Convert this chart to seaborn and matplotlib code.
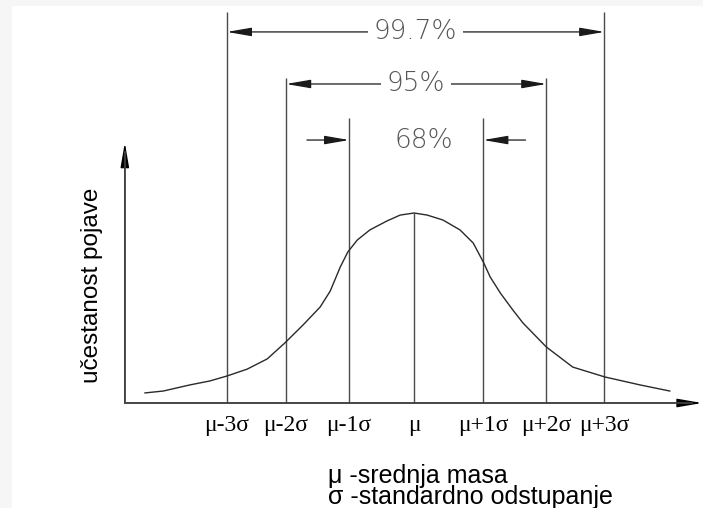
import matplotlib
matplotlib.use("Agg")
import matplotlib.pyplot as plt
from matplotlib.patches import Rectangle
import seaborn as sns
import pandas as pd

# ---- data ----
# bell curve (x in sigma units, y relative frequency, peak = 1)
curve_x = [-4.27, -3.98, -3.56, -3.24, -2.97, -2.65, -2.33, -2.05, -1.76, -1.49,
           -1.33, -1.17, -1.05, -0.90, -0.70, -0.43, -0.22, 0.0, 0.21, 0.46,
           0.73, 0.94, 1.10, 1.21, 1.37, 1.57, 1.73, 2.10, 2.52, 3.03,
           3.59, 4.06]
curve_y = [0.053, 0.063, 0.095, 0.116, 0.142, 0.178, 0.232, 0.316, 0.411, 0.505,
           0.589, 0.716, 0.795, 0.858, 0.911, 0.958, 0.989, 1.0, 0.989, 0.963,
           0.911, 0.842, 0.742, 0.663, 0.579, 0.489, 0.421, 0.295, 0.189, 0.137,
           0.095, 0.063]

sigma_labels = ["μ-3σ", "μ-2σ", "μ-1σ", "μ", "μ+1σ", "μ+2σ", "μ+3σ"]
sigma_pos = [-2.97, -2.03, -1.03, 0.0, 1.10, 2.10, 3.02]
line_tops = [2.058, 1.711, 1.50, 1.0, 1.50, 1.711, 2.058]

pct_labels = ["99.7%", "95%", "68%"]
pct_levels = [1.953, 1.679, 1.384]

y_label = "učestanost pojave"
legend_lines = ["μ -srednja masa", "σ -standardno odstupanje"]

# ---- figure ----
W, H = 703, 508
fig = plt.figure(figsize=(W / 100, H / 100), dpi=100)
fig.patch.set_facecolor("#f6f6f6")
fig.add_artist(Rectangle((12 / W, 0), 1 - 12 / W, 1 - 6 / H, transform=fig.transFigure,
                         facecolor="white", edgecolor="none", zorder=0))
ax = fig.add_axes([0, 0, 1, 1])
ax.patch.set_alpha(0)
ax.set_xlim(-414 / 63, (W - 414) / 63)
ax.set_ylim((403 - H) / 190, 403 / 190)

LINE = "#4a4a4a"
x_axis_left, x_axis_right = -4.59, 4.57
y_axis_top = 1.37
head = "-|>,head_length=1.5,head_width=0.26"

# axes with arrows
ax.annotate("", xy=(x_axis_right, 0), xytext=(x_axis_left, 0),
            arrowprops=dict(arrowstyle=head, mutation_scale=10,
                            color="black", lw=1.0, shrinkA=0, shrinkB=0))
ax.annotate("", xy=(x_axis_left, y_axis_top), xytext=(x_axis_left, 0),
            arrowprops=dict(arrowstyle=head, mutation_scale=10,
                            color="black", lw=1.0, shrinkA=0, shrinkB=0))
ax.plot([x_axis_left, x_axis_right - 0.15], [0, 0], color=LINE, lw=1.1, zorder=3)
ax.plot([x_axis_left, x_axis_left], [0, y_axis_top - 0.05], color=LINE, lw=1.1, zorder=3)

# vertical sigma lines
ax.vlines(sigma_pos, 0, line_tops, color=LINE, lw=1.0, zorder=2)

# curve
df = pd.DataFrame({"x": curve_x, "y": curve_y})
sns.lineplot(data=df, x="x", y="y", sort=False, color="#2a2a2a", lw=1.0, ax=ax, zorder=4)
ax.set_axis_off()

# tick labels
for p, lab in zip(sigma_pos, sigma_labels):
    ax.text(p, -0.118, lab, ha="center", va="center", fontsize=17,
            family="Liberation Serif", color="black")

# percentage dimension arrows
astyle = dict(mutation_scale=10, color="#1a1a1a", lw=0.9, shrinkA=0, shrinkB=0)
for i, (lab, lev) in enumerate(zip(pct_labels, pct_levels)):
    left, right = sigma_pos[[0, 1, 2][i]], sigma_pos[[6, 5, 4][i]]
    mid = (left + right) / 2
    if i < 2:
        ax.annotate("", xy=(left, lev), xytext=(mid, lev), arrowprops=dict(arrowstyle=head, **astyle))
        ax.annotate("", xy=(right, lev), xytext=(mid, lev), arrowprops=dict(arrowstyle=head, **astyle))
        tx = mid
    else:
        ax.annotate("", xy=(left, lev), xytext=(left - 0.67, lev), arrowprops=dict(arrowstyle=head, **astyle))
        ax.annotate("", xy=(right, lev), xytext=(right + 0.67, lev), arrowprops=dict(arrowstyle=head, **astyle))
        tx = mid + 0.12
    ax.text(tx, lev, lab, ha="center", va="center", fontsize=19,
            color="#555555", family="DejaVu Sans", fontweight="light", zorder=6,
            bbox=dict(facecolor="white", edgecolor="none", pad=4))

# y label
ax.text(-5.11, 0.62, y_label, rotation=90, ha="center", va="center", fontsize=17.5,
        family="Liberation Sans", color="black")

# legend text (one block, tight line spacing as in the reference)
ax.text(-1.365, -0.44, "\n".join(legend_lines), ha="left", va="center", fontsize=18,
        family="Liberation Sans", color="black", linespacing=0.88)

fig.savefig("out.png", dpi=100, facecolor=fig.get_facecolor())
